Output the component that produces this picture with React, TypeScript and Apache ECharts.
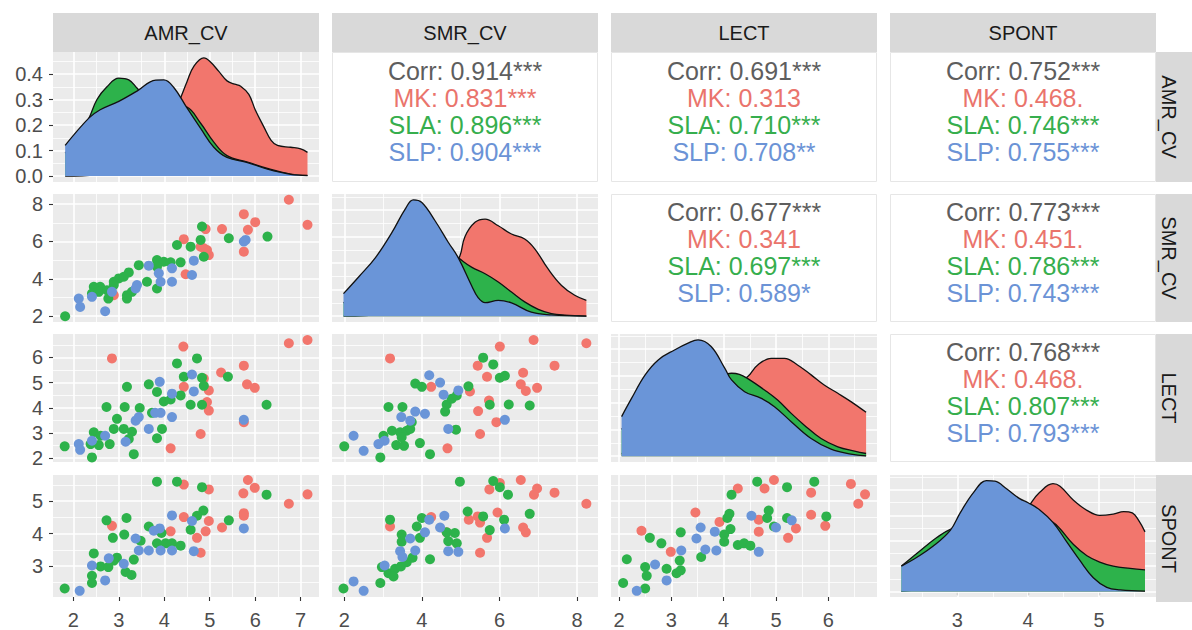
import { useEffect, useRef } from "react";
import * as echarts from "echarts";

type Pt = [number, number];

// ---------- labels & scales ----------
const variables = ["AMR_CV", "SMR_CV", "LECT", "SPONT"];
const groupNames = ["MK", "SLA", "SLP"];
const groupColors = ["#F2766D", "#2DB24B", "#6A95D8"];
const textColors = ["#EA746C", "#36AE4D", "#6B93D6"];
const corrColor = "#5E5E5E";

const axisLimits: Pt[] = [
  [1.553, 7.403],
  [1.684, 8.54],
  [1.848, 6.928],
  [2.049, 5.805],
];
const majorBreaks = [
  [2, 3, 4, 5, 6, 7],
  [2, 4, 6, 8],
  [2, 3, 4, 5, 6],
  [3, 4, 5],
];
const minorBreaks = [
  [2.5, 3.5, 4.5, 5.5, 6.5],
  [3, 5, 7],
  [2.5, 3.5, 4.5, 5.5, 6.5],
  [2.5, 3.5, 4.5, 5.5],
];
const densityMajor = [0, 0.1, 0.2, 0.3, 0.4];
const densityMinor = [0.05, 0.15, 0.25, 0.35, 0.45];

// ---------- correlation texts (upper triangle) ----------
const corrCells: Pt[] = [[0, 1], [0, 2], [0, 3], [1, 2], [1, 3], [2, 3]];
const corrAll = ["0.914***", "0.691***", "0.752***", "0.677***", "0.773***", "0.768***"];
const corrMK = ["0.831***", "0.313", "0.468.", "0.341", "0.451.", "0.468."];
const corrSLA = ["0.896***", "0.710***", "0.746***", "0.697***", "0.786***", "0.807***"];
const corrSLP = ["0.904***", "0.708**", "0.755***", "0.589*", "0.743***", "0.793***"];

// ---------- densities (diagonal) ----------
const densAMR_MK: Pt[] = [[1.82,0.0],[2.5,0.005],[3.0,0.02],[3.5,0.06],[4.0,0.16],[4.2,0.24],[4.36,0.307],[4.5,0.37],[4.65,0.43],[4.87,0.463],[5.0,0.45],[5.2,0.41],[5.38,0.373],[5.55,0.36],[5.68,0.352],[5.86,0.32],[6.0,0.26],[6.19,0.193],[6.35,0.14],[6.49,0.12],[6.78,0.113],[7.0,0.107],[7.15,0.093]];
const densAMR_SLA: Pt[] = [[1.82,0.09],[2.1,0.15],[2.34,0.225],[2.52,0.3],[2.74,0.35],[3.0,0.384],[3.22,0.377],[3.4,0.345],[3.62,0.3],[3.85,0.27],[4.1,0.265],[4.3,0.275],[4.5,0.27],[4.8,0.207],[5.09,0.133],[5.38,0.08],[5.83,0.055],[6.27,0.03],[6.78,0.008],[7.15,0.002]];
const densAMR_SLP: Pt[] = [[1.82,0.12],[2.34,0.227],[2.59,0.26],[3.0,0.293],[3.4,0.333],[3.81,0.376],[3.99,0.377],[4.21,0.347],[4.5,0.267],[4.8,0.187],[5.09,0.113],[5.38,0.073],[5.83,0.053],[6.27,0.027],[6.78,0.007],[7.15,0.003]];

const densSMR_MK: Pt[] = [[1.98,0.0],[3.0,0.01],[4.0,0.08],[4.5,0.15],[4.94,0.215],[5.11,0.3],[5.37,0.354],[5.63,0.366],[5.97,0.341],[6.31,0.31],[6.65,0.291],[6.91,0.254],[7.25,0.179],[7.6,0.116],[7.94,0.079],[8.24,0.06]];
const densSMR_SLA: Pt[] = [[1.98,0.05],[2.5,0.12],[3.0,0.2],[3.5,0.27],[4.0,0.3],[4.5,0.265],[4.94,0.22],[5.28,0.185],[5.63,0.16],[5.97,0.129],[6.31,0.091],[6.65,0.054],[7.0,0.026],[7.34,0.01],[7.68,0.004],[8.24,0.0]];
const densSMR_SLP: Pt[] = [[1.98,0.085],[2.37,0.148],[2.8,0.22],[3.23,0.316],[3.57,0.404],[3.78,0.439],[4.0,0.429],[4.34,0.36],[4.68,0.279],[4.94,0.22],[5.28,0.116],[5.45,0.07],[5.63,0.051],[5.97,0.06],[6.31,0.05],[6.82,0.015],[7.34,0.005],[8.24,0.0]];

const densLECT_MK: Pt[] = [[2.05,0.01],[3.0,0.08],[3.8,0.2],[4.2,0.26],[4.46,0.2975],[4.65,0.341],[4.91,0.366],[5.16,0.366],[5.41,0.341],[5.67,0.304],[5.92,0.266],[6.18,0.235],[6.43,0.204],[6.72,0.164]];
const densLECT_SLA: Pt[] = [[2.05,0.1],[2.5,0.2],[3.0,0.27],[3.5,0.3],[3.8,0.3],[4.0,0.305],[4.15,0.31],[4.3,0.306],[4.46,0.29],[4.78,0.2475],[5.03,0.21],[5.29,0.16],[5.54,0.116],[5.86,0.066],[6.18,0.035],[6.5,0.019],[6.72,0.01]];
const densLECT_SLP: Pt[] = [[2.05,0.148],[2.24,0.216],[2.5,0.304],[2.75,0.36],[3.07,0.398],[3.32,0.4225],[3.51,0.435],[3.76,0.41],[4.02,0.329],[4.15,0.285],[4.4,0.241],[4.72,0.216],[4.97,0.185],[5.29,0.129],[5.67,0.066],[6.05,0.026],[6.43,0.0075],[6.72,0.001]];

const densSPONT_MK: Pt[] = [[2.21,0.0],[2.8,0.03],[3.3,0.1],[3.7,0.22],[4.02,0.341],[4.16,0.39],[4.35,0.425],[4.45,0.415],[4.64,0.36],[4.83,0.32],[5.01,0.3],[5.2,0.305],[5.35,0.315],[5.47,0.31],[5.56,0.28],[5.65,0.235]];
const densSPONT_SLA: Pt[] = [[2.21,0.1],[2.47,0.16],[2.71,0.2125],[2.9,0.245],[3.2,0.27],[3.5,0.29],[3.9,0.3],[4.16,0.295],[4.35,0.2725],[4.45,0.2475],[4.64,0.185],[4.83,0.141],[5.01,0.116],[5.2,0.1],[5.44,0.091],[5.65,0.085]];
const densSPONT_SLP: Pt[] = [[2.21,0.1],[2.43,0.135],[2.66,0.179],[2.9,0.241],[3.04,0.31],[3.23,0.391],[3.41,0.4375],[3.53,0.435],[3.7,0.404],[3.88,0.366],[4.0,0.35],[4.16,0.3225],[4.35,0.2725],[4.54,0.1975],[4.73,0.1225],[4.92,0.054],[5.11,0.016],[5.3,0.006],[5.65,0.001]];

// ---------- scatter panels (x = column variable, y = row variable) ----------
const AMR_SMR_MK: Pt[] = [[6.74,8.23],[7.15,6.89],[5.75,7.46],[6.0,7.03],[5.84,6.62],[5.27,6.66],[4.91,6.66],[4.43,6.12],[5.75,5.45],[4.8,5.72],[4.94,5.54],[4.98,5.27],[4.87,5.63],[4.47,4.24],[2.89,3.12]];
const AMR_SMR_SLA: Pt[] = [[1.82,1.99],[4.83,6.8],[4.8,6.08],[5.42,6.17],[6.27,6.26],[4.28,5.81],[4.58,5.72],[4.87,5.18],[3.84,5.0],[3.99,4.91],[4.14,4.88],[4.36,4.88],[3.84,4.64],[3.44,4.73],[3.22,4.34],[3.11,4.11],[3.0,4.02],[2.89,3.84],[2.89,3.66],[2.59,3.57],[2.45,3.57],[2.41,3.21],[2.56,3.3],[2.74,3.39],[3.18,3.12],[3.29,3.3],[3.62,3.84],[3.84,3.48],[2.77,2.94],[3.18,2.94]];
const AMR_SMR_SLP: Pt[] = [[2.12,2.94],[2.15,2.49],[2.7,2.26],[2.41,3.03],[3.66,4.7],[3.88,4.29],[3.92,3.84],[4.17,3.84],[3.4,3.66],[3.37,3.48],[4.65,4.97],[4.61,4.2],[5.79,6.08],[5.75,5.99],[4.17,4.56],[2.85,3.3]];

const AMR_LECT_MK: Pt[] = [[6.74,6.56],[7.15,6.69],[2.85,5.96],[4.42,6.43],[5.25,5.4],[5.75,5.67],[5.82,4.93],[5.99,4.79],[4.43,4.83],[4.98,4.69],[4.94,4.23],[4.98,3.89],[4.8,2.96],[4.14,2.39],[5.75,3.43],[4.87,5.16]];
const AMR_LECT_SLA: Pt[] = [[1.81,2.47],[2.41,2.03],[3.33,2.16],[3.84,2.79],[3.95,3.16],[2.45,3.03],[2.6,2.89],[2.38,2.56],[2.56,2.52],[2.8,2.56],[2.89,3.16],[3.11,3.16],[3.29,3.05],[3.22,2.76],[2.96,3.56],[2.73,4.03],[3.13,4.03],[3.46,3.99],[3.18,4.83],[3.66,4.93],[3.84,4.63],[3.73,3.8],[3.99,4.25],[4.14,4.33],[4.36,4.49],[4.28,5.76],[4.72,5.96],[4.43,5.23],[4.83,5.19],[4.87,4.87],[4.58,4.12],[4.83,4.12],[5.4,5.23],[6.25,4.12]];
const AMR_LECT_SLP: Pt[] = [[2.12,2.56],[2.15,2.33],[2.41,2.69],[2.7,2.89],[3.15,2.65],[3.66,3.16],[3.37,3.49],[3.44,3.63],[3.8,3.8],[3.92,3.8],[4.17,3.63],[4.17,4.56],[3.9,5.03],[4.61,5.32],[4.65,4.65],[5.75,3.52]];

const AMR_SPONT_MK: Pt[] = [[5.84,5.65],[5.99,5.41],[5.74,5.24],[6.74,4.92],[7.15,5.21],[5.75,4.63],[5.75,4.55],[4.43,5.51],[4.98,5.36],[4.43,4.51],[4.98,4.39],[5.27,4.19],[4.91,4.07],[4.14,4.07],[4.72,3.87],[4.8,3.41],[2.85,4.24]];
const AMR_SPONT_SLA: Pt[] = [[1.81,2.31],[3.84,5.6],[4.28,5.6],[4.83,5.43],[6.25,5.2],[5.42,4.41],[4.86,4.71],[4.72,4.55],[4.58,4.12],[2.73,4.41],[3.17,4.48],[3.66,4.22],[3.94,4.02],[2.87,3.87],[3.12,3.97],[3.48,3.78],[3.84,3.7],[4.03,3.7],[4.17,3.7],[4.36,3.63],[2.45,3.39],[2.96,3.26],[2.89,3.17],[2.6,2.99],[2.77,2.97],[3.33,3.2],[3.15,2.82],[3.28,2.73],[2.41,2.7],[2.41,2.48]];
const AMR_SPONT_SLP: Pt[] = [[2.14,2.24],[2.7,2.56],[2.41,3.02],[2.78,3.24],[3.11,3.07],[3.37,3.85],[3.44,3.48],[3.66,3.48],[3.92,3.48],[4.17,3.48],[3.9,4.16],[3.77,4.09],[4.17,4.56],[4.61,4.39],[4.65,3.46],[5.75,4.16]];

const SMR_LECT_MK: Pt[] = [[3.18,5.96],[6.01,6.43],[6.88,6.69],[8.24,6.56],[7.42,5.67],[6.61,5.39],[5.44,5.67],[5.68,5.23],[6.55,4.93],[6.68,4.67],[6.97,4.79],[5.24,4.65],[4.24,4.83],[5.73,4.29],[5.45,3.87],[5.92,3.43],[5.5,2.96],[4.66,2.39]];
const SMR_LECT_SLA: Pt[] = [[2.0,2.47],[2.93,2.03],[4.21,2.16],[3.95,2.6],[3.34,2.52],[3.54,2.49],[3.01,2.89],[3.23,3.09],[3.44,3.03],[3.61,3.09],[3.74,3.43],[3.7,3.16],[3.48,2.83],[3.14,4.03],[3.5,4.03],[3.83,4.96],[4.0,4.83],[4.64,4.13],[4.6,3.85],[4.77,4.36],[4.9,4.49],[5.2,4.85],[4.88,3.13],[5.58,5.99],[5.84,5.72],[6.01,5.19],[6.14,5.27],[5.75,4.12],[6.24,4.13],[6.78,4.09]];
const SMR_LECT_SLP: Pt[] = [[2.24,2.89],[2.5,2.29],[2.88,2.56],[3.04,2.69],[3.47,3.63],[3.83,3.85],[4.08,3.76],[4.19,5.29],[4.47,5.0],[4.56,4.52],[4.94,4.69],[4.68,3.16],[6.14,3.52],[3.7,3.49]];

const SMR_SPONT_MK: Pt[] = [[6.55,5.65],[6.01,5.56],[5.74,5.36],[6.97,5.39],[6.89,5.2],[7.42,5.26],[8.24,4.92],[4.24,4.51],[3.18,4.22],[5.21,4.43],[5.44,4.53],[5.5,4.34],[5.95,4.65],[6.61,4.19],[6.68,4.04],[5.68,3.87],[5.5,3.41],[4.64,4.04]];
const SMR_SPONT_SLA: Pt[] = [[1.98,2.31],[4.98,5.6],[5.84,5.62],[6.01,5.43],[6.22,5.2],[3.18,4.43],[4.0,4.48],[3.87,4.22],[3.48,3.97],[3.48,3.75],[3.95,3.87],[4.64,4.04],[4.85,4.02],[4.68,3.77],[4.9,3.7],[5.18,4.68],[5.58,4.53],[5.75,4.11],[6.12,4.43],[6.78,4.61],[4.21,3.21],[2.93,2.48],[2.97,2.97],[3.14,2.78],[3.31,2.92],[3.46,2.99],[3.61,3.12],[3.76,3.26],[3.27,2.68]];
const SMR_SPONT_SLP: Pt[] = [[2.24,2.53],[2.5,2.24],[3.04,3.02],[3.44,3.46],[3.5,3.28],[3.83,3.48],[3.7,3.85],[4.08,4.04],[4.19,4.43],[4.58,4.55],[4.47,4.19],[4.68,3.46],[4.94,3.44],[6.14,4.16]];

const LECT_SPONT_MK: Pt[] = [[4.96,5.65],[4.27,5.39],[4.78,5.39],[5.67,5.26],[6.43,5.53],[6.7,5.21],[6.57,4.92],[5.67,4.58],[5.94,4.24],[5.38,4.16],[4.67,4.43],[4.67,4.06],[5.23,3.87],[3.92,4.36],[3.46,4.65],[2.43,4.09],[2.99,3.44]];
const LECT_SPONT_SLA: Pt[] = [[4.64,5.6],[5.73,5.6],[5.21,5.43],[4.15,5.2],[4.11,4.61],[4.07,4.48],[4.86,4.71],[4.83,4.48],[5.21,4.48],[5.96,4.53],[4.96,4.22],[4.13,4.14],[4.01,3.97],[4.01,3.75],[4.27,3.65],[4.39,3.7],[4.51,3.63],[3.18,4.04],[2.59,3.87],[2.81,3.7],[2.15,3.21],[2.5,2.97],[2.53,2.7],[2.08,2.48],[2.5,2.31],[2.91,2.92],[3.16,3.17],[3.1,2.78],[3.18,2.87],[3.57,3.28]];
const LECT_SPONT_SLP: Pt[] = [[2.34,2.24],[2.69,3.05],[2.91,2.56],[3.19,3.48],[3.48,3.85],[3.56,4.19],[3.83,4.06],[3.65,3.51],[3.86,3.48],[4.53,4.55],[4.67,3.44],[5.0,4.19],[5.3,4.41]];

// ---------- layout ----------
const panelLeft = [53, 332, 611, 890];
const panelWidth = 266;
const panelTop = [52, 194, 334, 475];
const panelHeight = [130, 128, 128, 127];
const stripTop = 13;
const stripHeight = 39;
const rightStripX = 1156;
const rightStripWidth = 40;
const fontFamily = "'Liberation Sans', Arial, Helvetica, sans-serif";

const densityByVar: Pt[][][] = [
  [densAMR_MK, densAMR_SLA, densAMR_SLP],
  [densSMR_MK, densSMR_SLA, densSMR_SLP],
  [densLECT_MK, densLECT_SLA, densLECT_SLP],
  [densSPONT_MK, densSPONT_SLA, densSPONT_SLP],
];

const scatterByCell: Record<string, Pt[][]> = {
  "1-0": [AMR_SMR_MK, AMR_SMR_SLA, AMR_SMR_SLP],
  "2-0": [AMR_LECT_MK, AMR_LECT_SLA, AMR_LECT_SLP],
  "3-0": [AMR_SPONT_MK, AMR_SPONT_SLA, AMR_SPONT_SLP],
  "2-1": [SMR_LECT_MK, SMR_LECT_SLA, SMR_LECT_SLP],
  "3-1": [SMR_SPONT_MK, SMR_SPONT_SLA, SMR_SPONT_SLP],
  "3-2": [LECT_SPONT_MK, LECT_SPONT_SLA, LECT_SPONT_SLP],
};

function gridMarkLine(xMaj: number[], xMin: number[], yMaj: number[], yMin: number[]) {
  const minorW = 0.8;
  const majorW = 1.6;
  const data: any[] = [
    ...xMin.map((v) => ({ xAxis: v, lineStyle: { width: minorW } })),
    ...yMin.map((v) => ({ yAxis: v, lineStyle: { width: minorW } })),
    ...xMaj.map((v) => ({ xAxis: v, lineStyle: { width: majorW } })),
    ...yMaj.map((v) => ({ yAxis: v, lineStyle: { width: majorW } })),
  ];
  return {
    silent: true,
    symbol: ["none", "none"],
    label: { show: false },
    emphasis: { disabled: true },
    lineStyle: { color: "#FFFFFF", type: "solid", opacity: 1 },
    z: 1,
    animation: false,
    data,
  };
}

function buildOption() {
  const grid: any[] = [];
  const xAxis: any[] = [];
  const yAxis: any[] = [];
  const series: any[] = [];
  const graphic: any[] = [];

  const labelStyle = { color: "#4D4D4D", fontSize: 20, fontFamily };
  const tickStyle = { color: "#333333", width: 1.1 };

  let gi = 0;
  for (let r = 0; r < 4; r++) {
    for (let c = 0; c <= r; c++) {
      grid.push({
        left: panelLeft[c],
        top: panelTop[r],
        width: panelWidth,
        height: panelHeight[r],
        show: true,
        backgroundColor: "#EBEBEB",
        borderWidth: 0,
      });
      const showX = r === 3;
      const xb = majorBreaks[c];
      xAxis.push({
        gridIndex: gi,
        type: "value",
        min: axisLimits[c][0],
        max: axisLimits[c][1],
        axisLine: { show: false },
        splitLine: { show: false },
        axisTick: { show: showX, customValues: xb, length: 4, lineStyle: tickStyle },
        axisLabel: {
          show: showX,
          customValues: xb,
          margin: 13,
          ...labelStyle,
          formatter: (v: number) => (xb.indexOf(v) >= 0 ? String(v) : ""),
        },
      });

      if (r === c) {
        const dens = densityByVar[c];
        let dMax = 0;
        dens.forEach((arr) => arr.forEach((p) => (dMax = Math.max(dMax, p[1]))));
        const dLo = -0.05 * dMax;
        const dHi = 1.05 * dMax;
        const showY = c === 0;
        yAxis.push({
          gridIndex: gi,
          type: "value",
          min: dLo,
          max: dHi,
          axisLine: { show: false },
          splitLine: { show: false },
          axisTick: { show: showY, customValues: densityMajor, length: 4, lineStyle: tickStyle },
          axisLabel: {
            show: showY,
            customValues: densityMajor,
            margin: 10,
            ...labelStyle,
            formatter: (v: number) => (densityMajor.indexOf(v) >= 0 ? v.toFixed(1) : ""),
          },
        });
        dens.forEach((arr, g) => {
          series.push({
            type: "line",
            name: groupNames[g],
            xAxisIndex: gi,
            yAxisIndex: gi,
            data: arr,
            z: 2 + g,
            smooth: 0.4,
            symbol: "none",
            showSymbol: false,
            silent: true,
            lineStyle: { color: "#111111", width: 1.3 },
            areaStyle: { color: groupColors[g], opacity: 1 },
            markLine:
              g === 0
                ? gridMarkLine(
                    majorBreaks[c],
                    minorBreaks[c],
                    densityMajor.filter((v) => v <= dHi),
                    densityMinor.filter((v) => v <= dHi)
                  )
                : undefined,
          });
        });
      } else {
        const showY = c === 0;
        const yb = majorBreaks[r];
        yAxis.push({
          gridIndex: gi,
          type: "value",
          min: axisLimits[r][0],
          max: axisLimits[r][1],
          axisLine: { show: false },
          splitLine: { show: false },
          axisTick: { show: showY, customValues: yb, length: 4, lineStyle: tickStyle },
          axisLabel: {
            show: showY,
            customValues: yb,
            margin: 10,
            ...labelStyle,
            formatter: (v: number) => (yb.indexOf(v) >= 0 ? String(v) : ""),
          },
        });
        const pts = scatterByCell[`${r}-${c}`];
        pts.forEach((arr, g) => {
          series.push({
            type: "scatter",
            name: groupNames[g],
            xAxisIndex: gi,
            yAxisIndex: gi,
            data: arr,
            z: 2 + g,
            symbol: "circle",
            symbolSize: 10,
            silent: true,
            itemStyle: { color: groupColors[g], opacity: 1 },
            markLine:
              g === 0
                ? gridMarkLine(majorBreaks[c], minorBreaks[c], majorBreaks[r], minorBreaks[r])
                : undefined,
          });
        });
      }
      gi++;
    }
  }

  // top strips
  variables.forEach((name, c) => {
    graphic.push({
      type: "rect",
      silent: true,
      shape: { x: panelLeft[c], y: stripTop, width: panelWidth, height: stripHeight },
      style: { fill: "#D9D9D9" },
    });
    graphic.push({
      type: "text",
      silent: true,
      x: panelLeft[c] + panelWidth / 2,
      y: stripTop + stripHeight / 2,
      style: { text: name, fill: "#1A1A1A", fontSize: 20, fontFamily, align: "center", verticalAlign: "middle" },
    });
  });
  // right strips
  variables.forEach((name, r) => {
    graphic.push({
      type: "rect",
      silent: true,
      shape: { x: rightStripX, y: panelTop[r], width: rightStripWidth, height: panelHeight[r] },
      style: { fill: "#D9D9D9" },
    });
    graphic.push({
      type: "text",
      silent: true,
      x: rightStripX + 13,
      y: panelTop[r] + panelHeight[r] / 2,
      rotation: -Math.PI / 2,
      style: { text: name, fill: "#1A1A1A", fontSize: 20, fontFamily, align: "center", verticalAlign: "middle" },
    });
  });
  // correlation panels
  corrCells.forEach(([r, c], k) => {
    graphic.push({
      type: "rect",
      silent: true,
      shape: { x: panelLeft[c] + 0.5, y: panelTop[r] + 0.5, width: panelWidth - 1, height: panelHeight[r] - 1 },
      style: { fill: "#FFFFFF", stroke: "#E6E6E6", lineWidth: 1 },
    });
    const lines = [
      { t: `Corr: ${corrAll[k]}`, col: corrColor },
      { t: `${groupNames[0]}: ${corrMK[k]}`, col: textColors[0] },
      { t: `${groupNames[1]}: ${corrSLA[k]}`, col: textColors[1] },
      { t: `${groupNames[2]}: ${corrSLP[k]}`, col: textColors[2] },
    ];
    const cx = panelLeft[c] + panelWidth / 2;
    const cy = panelTop[r] + panelHeight[r] / 2 - 5.5;
    lines.forEach((ln, i) => {
      graphic.push({
        type: "text",
        silent: true,
        x: cx,
        y: cy + (i - 1.5) * 26.7,
        style: { text: ln.t, fill: ln.col, fontSize: 25, fontFamily, align: "center", verticalAlign: "middle" },
      });
    });
  });

  return {
    animation: false,
    backgroundColor: "#FFFFFF",
    grid,
    xAxis,
    yAxis,
    series,
    graphic: { elements: graphic },
  };
}

export default function App() {
  const ref = useRef<HTMLDivElement | null>(null);
  useEffect(() => {
    if (!ref.current) return;
    const chart = echarts.init(ref.current, undefined, { renderer: "svg" });
    chart.setOption(buildOption() as any);
    return () => chart.dispose();
  }, []);
  return (
    <div
      ref={ref}
      style={{ position: "fixed", left: 0, top: 0, width: 1192, height: 630, background: "#fff" }}
    />
  );
}
